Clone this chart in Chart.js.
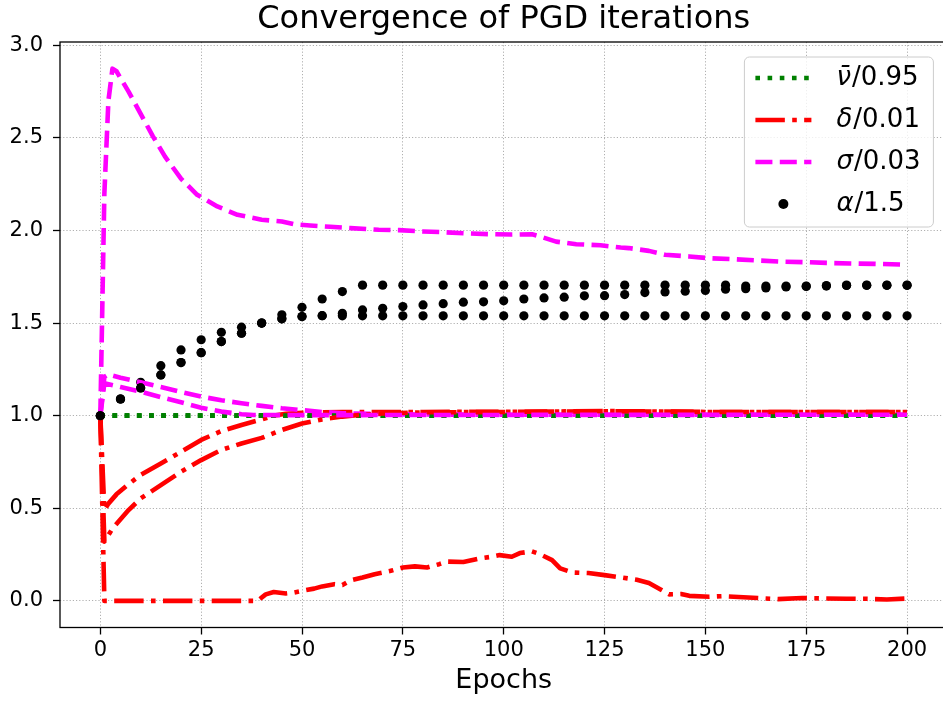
<!DOCTYPE html>
<html>
<head>
<meta charset="utf-8">
<title>Convergence of PGD iterations</title>
<script src="https://cdn.jsdelivr.net/npm/chart.js@4.4.1/dist/chart.umd.min.js"></script>
<style>
    html, body { margin: 0; padding: 0; background: #fff; overflow: hidden; }
    canvas { display: block; }
</style>
</head>
<body>
<canvas id="pgd-chart" width="952" height="704"></canvas>
<script>
// ===== ДАННЫЕ =====
const xTicks = [0, 25, 50, 75, 100, 125, 150, 175, 200];
const yTicks = [0.0, 0.5, 1.0, 1.5, 2.0, 2.5, 3.0];

// v̄ / 0.95 — во всех трёх запусках держится на единице
const vbarEpochs = [0, 200];
const vbarRun1 = [1.0, 1.0];
const vbarRun2 = [1.0, 1.0];
const vbarRun3 = [1.0, 1.0];

// δ / 0.01
const deltaEpochs1 = [0, 1, 5, 10, 20, 30, 39, 41, 43, 46, 48, 51, 53, 55, 58, 60, 62, 65, 68, 72, 75, 78, 81, 84, 86, 90, 94, 97, 99, 102, 104, 107, 109, 112, 114, 117, 121, 125, 128, 133, 136, 139, 141, 144, 146, 151, 154, 157, 163, 168, 174, 179, 185, 190, 195, 200];
const deltaRun1 = [1.0, 0.0, 0.0, 0.0, 0.0, 0.0, 0.0, 0.035, 0.048, 0.04, 0.045, 0.058, 0.066, 0.078, 0.09, 0.086, 0.11, 0.126, 0.144, 0.162, 0.18, 0.186, 0.18, 0.198, 0.212, 0.21, 0.229, 0.238, 0.247, 0.238, 0.258, 0.267, 0.252, 0.22, 0.175, 0.153, 0.15, 0.139, 0.13, 0.114, 0.096, 0.06, 0.035, 0.037, 0.027, 0.022, 0.025, 0.022, 0.015, 0.009, 0.015, 0.013, 0.011, 0.011, 0.007, 0.0125];
const deltaEpochs2 = [0, 1, 2, 4, 7, 10, 15, 20, 25, 30, 35, 40, 43, 46, 50, 55, 60, 70, 80, 100, 120, 130, 150, 175, 200];
const deltaRun2 = [1.0, 0.49, 0.525, 0.575, 0.63, 0.68, 0.742, 0.805, 0.869, 0.917, 0.95, 0.98, 1.0, 1.01, 1.015, 1.018, 1.02, 1.02, 1.02, 1.021, 1.023, 1.024, 1.02, 1.02, 1.02];
const deltaEpochs3 = [0, 1, 3, 7, 10, 15, 20, 25, 30, 35, 40, 45, 50, 55, 60, 65, 70, 80, 100, 125, 150, 200];
const deltaRun3 = [1.0, 0.32, 0.39, 0.49, 0.553, 0.625, 0.697, 0.76, 0.815, 0.85, 0.88, 0.923, 0.958, 0.98, 0.995, 1.005, 1.012, 1.018, 1.02, 1.025, 1.02, 1.02];

// σ / 0.03
const sigmaEpochs1 = [0, 1, 2, 3, 4, 7, 10, 13, 16, 20, 24, 29, 34, 40, 45, 48, 52, 57, 62, 69, 74, 80, 85, 91, 97, 102, 107, 109, 113, 118, 124, 129, 131, 136, 140, 146, 151, 157, 163, 169, 175, 180, 186, 192, 200];
const sigmaRun1 = [1.0, 2.2, 2.7, 2.874, 2.86, 2.75, 2.63, 2.51, 2.40, 2.28, 2.193, 2.13, 2.085, 2.058, 2.049, 2.034, 2.027, 2.02, 2.013, 2.004, 2.002, 1.995, 1.991, 1.984, 1.98, 1.978, 1.98, 1.968, 1.94, 1.926, 1.92, 1.908, 1.905, 1.89, 1.869, 1.86, 1.85, 1.845, 1.838, 1.832, 1.829, 1.825, 1.822, 1.82, 1.815];
const sigmaEpochs2 = [0, 1, 2, 5, 10, 15, 20, 25, 30, 35, 40, 45, 50, 55, 60, 70, 80, 100, 150, 200];
const sigmaRun2 = [1.0, 1.21, 1.223, 1.205, 1.18, 1.155, 1.128, 1.103, 1.083, 1.067, 1.053, 1.04, 1.03, 1.02, 1.013, 1.008, 1.006, 1.005, 1.005, 1.005];
const sigmaEpochs3 = [0, 1, 5, 10, 15, 20, 25, 30, 35, 38, 45, 60, 100, 200];
const sigmaRun3 = [1.0, 1.175, 1.155, 1.13, 1.1, 1.072, 1.043, 1.022, 1.008, 1.004, 1.003, 1.003, 1.004, 1.005];

// α / 1.5 — каждые 5 эпох
const alphaEpochs = [0, 5, 10, 15, 20, 25, 30, 35, 40, 45, 50, 55, 60, 65, 70, 75, 80, 85, 90, 95, 100, 105, 110, 115, 120, 125, 130, 135, 140, 145, 150, 155, 160, 165, 170, 175, 180, 185, 190, 195, 200];
const alphaRun1 = [1.0, 1.09, 1.18, 1.27, 1.355, 1.41, 1.45, 1.478, 1.50, 1.545, 1.585, 1.63, 1.67, 1.705, 1.705, 1.705, 1.705, 1.705, 1.705, 1.705, 1.705, 1.705, 1.705, 1.705, 1.705, 1.705, 1.705, 1.705, 1.705, 1.705, 1.705, 1.705, 1.70, 1.70, 1.70, 1.70, 1.703, 1.705, 1.705, 1.705, 1.705];
const alphaRun2 = [1.0, 1.09, 1.15, 1.22, 1.287, 1.34, 1.40, 1.445, 1.50, 1.523, 1.535, 1.54, 1.553, 1.571, 1.58, 1.589, 1.598, 1.605, 1.613, 1.615, 1.62, 1.63, 1.636, 1.64, 1.647, 1.648, 1.654, 1.665, 1.668, 1.672, 1.676, 1.683, 1.686, 1.69, 1.695, 1.698, 1.70, 1.703, 1.704, 1.704, 1.704];
const alphaRun3 = [1.0, 1.09, 1.15, 1.22, 1.287, 1.34, 1.40, 1.445, 1.50, 1.523, 1.535, 1.54, 1.539, 1.539, 1.539, 1.539, 1.539, 1.539, 1.539, 1.539, 1.539, 1.539, 1.539, 1.539, 1.539, 1.539, 1.539, 1.539, 1.539, 1.539, 1.539, 1.539, 1.539, 1.539, 1.539, 1.539, 1.539, 1.539, 1.539, 1.539, 1.539];

const FONT = 'DejaVu Sans';
const LW = 4.6;

// ===== СТИЛИ СЕРИЙ =====
function toPoints(xs, ys) {
    return xs.map((x, i) => ({ x: x, y: ys[i] }));
}

function lineSet(xs, ys, color, dash) {
    return {
        data: toPoints(xs, ys),
        borderColor: color,
        borderWidth: LW,
        borderDash: dash,
        borderCapStyle: 'butt',
        borderJoinStyle: 'round',
        pointRadius: 0,
        pointHoverRadius: 0,
        fill: false,
        tension: 0
    };
}

function dotSet(xs, ys) {
    return {
        data: toPoints(xs, ys),
        showLine: false,
        borderColor: '#000',
        pointRadius: 4.6,
        pointBackgroundColor: '#000',
        pointBorderWidth: 0,
        pointHoverRadius: 0
    };
}

const VBAR = { color: '#008000', dash: [LW, 1.65 * LW] };
const DELTA = { color: '#ff0000', dash: [6.4 * LW, 1.6 * LW, LW, 1.6 * LW] };
const SIGMA = { color: '#ff00ff', dash: [3.7 * LW, 1.6 * LW] };

const runs = [
    { v: vbarRun1, dx: deltaEpochs1, d: deltaRun1, sx: sigmaEpochs1, s: sigmaRun1, a: alphaRun1 },
    { v: vbarRun2, dx: deltaEpochs2, d: deltaRun2, sx: sigmaEpochs2, s: sigmaRun2, a: alphaRun2 },
    { v: vbarRun3, dx: deltaEpochs3, d: deltaRun3, sx: sigmaEpochs3, s: sigmaRun3, a: alphaRun3 }
];

const datasets = [];
runs.forEach(r => {
    datasets.push(lineSet(vbarEpochs, r.v, VBAR.color, VBAR.dash));
    datasets.push(lineSet(r.dx, r.d, DELTA.color, DELTA.dash));
    datasets.push(lineSet(r.sx, r.s, SIGMA.color, SIGMA.dash));
    datasets.push(dotSet(alphaEpochs, r.a));
});
// в Chart.js меньший order рисуется поверх — последние серии наверх
datasets.forEach((ds, i) => { ds.order = datasets.length - i; });

// ===== ЛЕГЕНДА =====
const legendRows = [
    { greek: 'ν\u0304', rest: '/0.95', ds: 0 },
    { greek: 'δ', rest: '/0.01', ds: 1 },
    { greek: 'σ', rest: '/0.03', ds: 2 },
    { greek: 'α', rest: '/1.5', ds: 3 }
];

const boxLegend = {
    id: 'boxLegend',
    afterDraw(chart) {
        const { ctx, chartArea: a } = chart;
        const w = 189, h = 170;
        const left = a.right - 14 - w;
        const top = a.top + 15;

        ctx.save();
        ctx.beginPath();
        ctx.roundRect(left, top, w, h, 5);
        ctx.fillStyle = 'rgba(255,255,255,0.8)';
        ctx.fill();
        ctx.strokeStyle = '#cccccc';
        ctx.lineWidth = 1;
        ctx.stroke();

        legendRows.forEach((row, i) => {
            const ds = chart.data.datasets[row.ds];
            const y = top + 21 + i * 42;
            const x0 = left + 11, x1 = left + 67;
            if (ds.showLine === false) {
                ctx.beginPath();
                ctx.arc((x0 + x1) / 2, y, 5, 0, Math.PI * 2);
                ctx.fillStyle = '#000';
                ctx.fill();
            } else {
                ctx.beginPath();
                ctx.setLineDash(ds.borderDash);
                ctx.lineCap = 'butt';
                ctx.lineWidth = ds.borderWidth;
                ctx.strokeStyle = ds.borderColor;
                ctx.moveTo(x0, y);
                ctx.lineTo(x1, y);
                ctx.stroke();
                ctx.setLineDash([]);
            }
            ctx.fillStyle = '#000';
            ctx.textBaseline = 'middle';
            ctx.textAlign = 'left';
            ctx.font = 'italic 26px "' + FONT + '"';
            const tx = left + 92;
            ctx.fillText(row.greek, tx, y);
            const gw = ctx.measureText(row.greek).width;
            ctx.font = '26px "' + FONT + '"';
            ctx.fillText(row.rest, tx + gw + 1, y);
        });
        ctx.restore();
    }
};

// ===== РАМКА И ЗАГОЛОВОК =====
const axesFrame = {
    id: 'axesFrame',
    afterDatasetsDraw(chart) {
        const { ctx, chartArea: a } = chart;
        ctx.save();
        ctx.strokeStyle = '#000';
        ctx.lineWidth = 1.3;
        ctx.strokeRect(a.left, a.top, a.right - a.left, a.bottom - a.top);
        ctx.fillStyle = '#000';
        ctx.font = '32px "' + FONT + '"';
        ctx.textAlign = 'center';
        ctx.textBaseline = 'alphabetic';
        ctx.fillText('Convergence of PGD iterations', (a.left + a.right) / 2, 28);
        ctx.restore();
    }
};

const gridStyle = {
    color: '#b0b0b0',
    lineWidth: 1,
    tickLength: 7,
    tickColor: '#000',
    tickWidth: 1.3,
    tickBorderDash: []
};

new Chart(document.getElementById('pgd-chart'), {
    type: 'line',
    data: { datasets: datasets },
    options: {
        responsive: false,
        animation: false,
        events: [],
        layout: { padding: { top: 42, right: 4, bottom: 0, left: 0 } },
        plugins: {
            legend: { display: false },
            tooltip: { enabled: false },
            title: { display: false }
        },
        scales: {
            x: {
                type: 'linear',
                min: -10,
                max: 210,
                afterBuildTicks: s => { s.ticks = xTicks.map(v => ({ value: v })); },
                afterFit: s => { s.height = 76.5; },
                ticks: {
                    color: '#000',
                    font: { family: FONT, size: 21 },
                    padding: 3,
                    maxRotation: 0,
                    autoSkip: false,
                    callback: v => String(v)
                },
                grid: gridStyle,
                border: { display: false, dash: [1.2, 2] },
                title: {
                    display: true,
                    text: 'Epochs',
                    color: '#000',
                    font: { family: FONT, size: 27 },
                    padding: { top: 0, bottom: 7 }
                }
            },
            y: {
                type: 'linear',
                min: -0.144,
                max: 3.018,
                afterBuildTicks: s => { s.ticks = yTicks.map(v => ({ value: v })); },
                afterFit: s => { s.width = 60; },
                ticks: {
                    color: '#000',
                    font: { family: FONT, size: 21 },
                    padding: 10,
                    autoSkip: false,
                    callback: v => v.toFixed(1)
                },
                grid: gridStyle,
                border: { display: false, dash: [1.2, 2] }
            }
        }
    },
    plugins: [axesFrame, boxLegend]
});
</script>
</body>
</html>
